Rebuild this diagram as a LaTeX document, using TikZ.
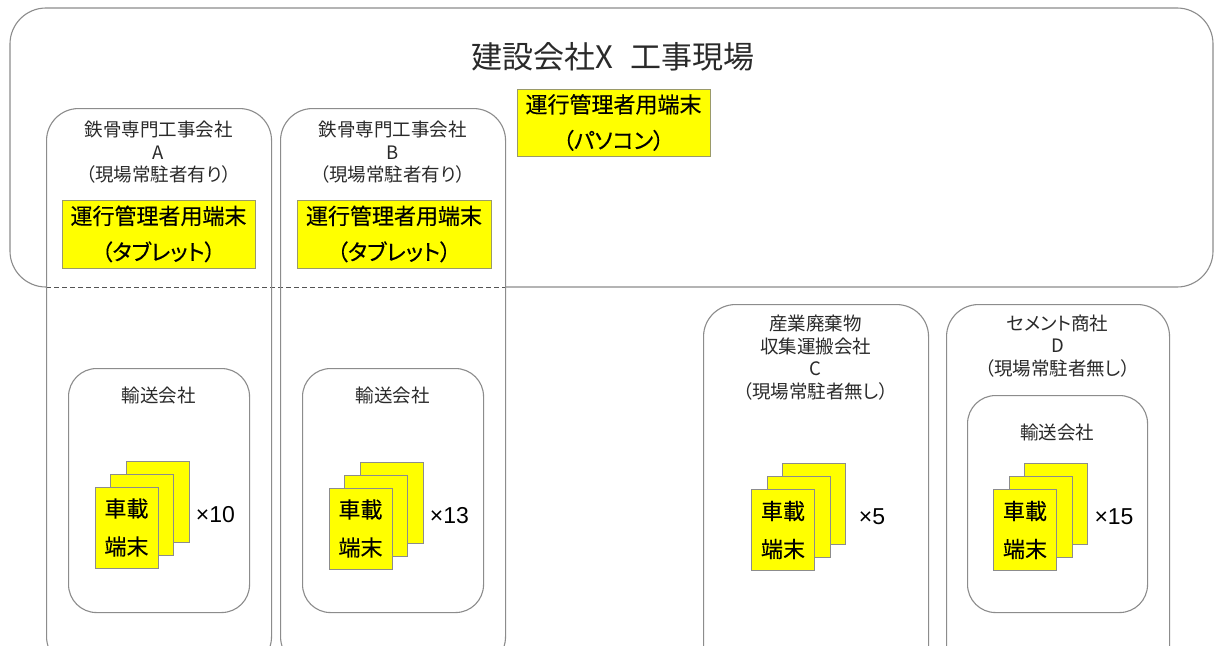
\documentclass[tikz,border=0pt]{standalone}
\usepackage{fontspec}
\setmainfont[RawFeature=+palt]{Noto Sans CJK JP}
\newfontfamily\ybfont[RawFeature=+palt, FakeBold=0.25]{Noto Sans CJK JP}
\newfontfamily\numfont{Liberation Sans}
\definecolor{frame}{HTML}{8C8C8C}
\definecolor{ybox}{HTML}{FFFF00}
\definecolor{yborder}{HTML}{9A9A6A}
\definecolor{txt}{HTML}{2A2A2A}
\tikzset{
  company/.style={draw=frame, line width=1.1pt, rounded corners=32pt, inner sep=0pt},
  transport/.style={draw=frame, line width=1.1pt, rounded corners=28pt, inner sep=0pt},
  term/.style={draw=yborder, fill=ybox, line width=0.9pt, inner sep=0pt, align=center,
    font=\ybfont\fontsize{22}{36}\selectfont, text=black},
  card/.style={draw=frame, fill=ybox, line width=0.8pt, inner sep=0pt,
    minimum width=63pt, minimum height=81pt, align=center,
    font=\ybfont\fontsize{22}{38}\selectfont, text=black},
  lbl/.style={align=center, text=txt, font=\fontsize{18.5}{22.5}\selectfont, inner sep=0pt},
  cnt/.style={text=black, font=\numfont\fontsize{23}{24}\selectfont, inner sep=0pt},
  title/.style={text=txt, font=\fontsize{31}{36}\selectfont, inner sep=0pt}
}
\newcommand{\cardstack}[4]{%
  \node[card] (#1b) at (#2+31,#3-26) {};
  \node[card] (#1m) at (#2+15.5,#3-13) {};
  \node[card] (#1f) at (#2,#3) {車載\\端末};
  \node[cnt] (#1n) at (#2+89,#3-13) {#4};
}
\begin{document}
\begin{tikzpicture}[x=1pt,y=-1pt]
\clip (0,0) rectangle (1215,645);
\fill[white] (0,0) rectangle (1215,645);
% construction site container
\coordinate (siteL) at (46,287);
\coordinate (siteR) at (505,287);
\draw[frame, line width=1.1pt, rounded corners=36pt] (siteL) -- (10,287) -- (10,8) -- (1213,8) -- (1213,287) -- (siteR);
\draw[frame!60!black, line width=1pt, dash pattern=on 5pt off 3pt] (siteL) -- (siteR);
\node[title] (title) at (613,57) {建設会社X\hspace{0.55em}工事現場};
\node[term, minimum width=193pt, minimum height=67pt] (pc) at (613.5,122.5) {運行管理者用端末\\（パソコン）};
% company A
\node[company, minimum width=225pt, minimum height=560pt, anchor=north west] (A) at (46,108) {};
\node[lbl] (Alab) at (158.5,152.5) {鉄骨専門工事会社\\A\\（現場常駐者有り）};
\node[term, minimum width=193pt, minimum height=68pt] (Atab) at (158.5,234) {運行管理者用端末\\（タブレット）};
\node[transport, minimum width=181pt, minimum height=244pt, anchor=north west] (At) at (68,368) {};
\node[lbl] (Atl) at (158.5,395) {輸送会社};
\cardstack{Ac}{126.5}{527.5}{×10}
% company B
\node[company, minimum width=225pt, minimum height=560pt, anchor=north west] (B) at (280,108) {};
\node[lbl] (Blab) at (392.5,152.5) {鉄骨専門工事会社\\B\\（現場常駐者有り）};
\node[term, minimum width=194pt, minimum height=68pt] (Btab) at (394,234) {運行管理者用端末\\（タブレット）};
\node[transport, minimum width=181pt, minimum height=244pt, anchor=north west] (Bt) at (302,368) {};
\node[lbl] (Btl) at (392.5,395) {輸送会社};
\cardstack{Bc}{360.5}{528.5}{×13}
% company C
\node[company, minimum width=225pt, minimum height=400pt, anchor=north west] (C) at (703,304) {};
\node[lbl] (Clab) at (815.5,357.5) {産業廃棄物\\収集運搬会社\\C\\（現場常駐者無し）};
\cardstack{Cc}{783}{530}{×5}
% company D
\node[company, minimum width=223pt, minimum height=400pt, anchor=north west] (D) at (946,304) {};
\node[lbl] (Dlab) at (1057.5,346) {セメント商社\\D\\（現場常駐者無し）};
\node[transport, minimum width=180pt, minimum height=217pt, anchor=north west] (Dt) at (967,395) {};
\node[lbl] (Dtl) at (1057,432) {輸送会社};
\cardstack{Dc}{1025}{530}{×15}
\end{tikzpicture}
\end{document}
